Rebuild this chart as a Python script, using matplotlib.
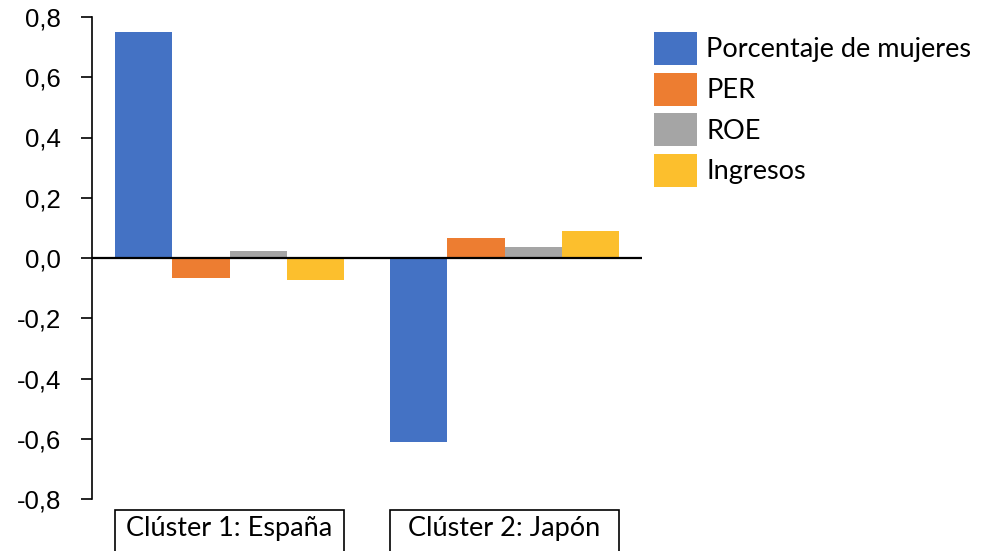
import matplotlib
matplotlib.use("Agg")
import matplotlib.pyplot as plt
import matplotlib.transforms as mtransforms
from matplotlib.patches import Rectangle
from matplotlib.ticker import FuncFormatter
import numpy as np

categories = ["Clúster 1: España", "Clúster 2: Japón"]
series = ["Porcentaje de mujeres", "PER", "ROE", "Ingresos"]
mujeres = [0.75, -0.61]
per = [-0.065, 0.065]
roe = [0.023, 0.038]
ingresos = [-0.073, 0.091]
yticks = [-0.8, -0.6, -0.4, -0.2, 0.0, 0.2, 0.4, 0.6, 0.8]

colors = ["#4472C4", "#ED7D31", "#A5A5A5", "#FCBF2D"]
values = [mujeres, per, roe, ingresos]

fig = plt.figure(figsize=(9.84, 5.51), dpi=100)
ax = fig.add_axes([92 / 984, 1 - 499 / 551, 550 / 984, 482 / 551])

x = np.arange(len(categories))
width = 1 / 4.8  # excel gap width 80%
for i, (name, vals) in enumerate(zip(series, values)):
    ax.bar(x + (i - 1.5) * width, vals, width, color=colors[i], label=name)

ax.set_xlim(-0.5, 1.5)
ax.set_ylim(-0.8, 0.8)
ax.set_yticks(yticks)
ax.yaxis.set_major_formatter(FuncFormatter(lambda v, p: ("%.1f" % v).replace(".", ",").replace("-0,0", "0,0")))
ax.tick_params(axis="y", direction="out", length=8, width=1.2, pad=14.5,
               labelsize=18.5, labelfontfamily="Liberation Sans")
ax.set_xticks([])
for s in ["top", "right", "bottom"]:
    ax.spines[s].set_visible(False)
ax.spines["left"].set_linewidth(1.2)
ax.axhline(0, color="black", linewidth=1.6, zorder=3)

# category labels in boxes under the plot
trans = mtransforms.blended_transform_factory(ax.transData, ax.transAxes)
for xi, cat in zip(x, categories):
    left = xi - 2 * width
    ax.add_patch(Rectangle((left, -0.2), 4 * width, 0.177, transform=trans,
                           fill=False, edgecolor="black", linewidth=1.2, clip_on=False))
    ax.text(xi, -0.062, cat, transform=trans, ha="center", va="center",
            fontsize=19.5, family="Lato")

fig.legend(loc="upper left", bbox_to_anchor=(654 / 984, 1 - 32 / 551), frameon=False,
           prop={"family": "Lato", "size": 19.5}, handlelength=1.6, handleheight=1.5,
           labelspacing=0.28, handletextpad=0.33, borderpad=0, borderaxespad=0)

fig.savefig("out.png", dpi=100)
